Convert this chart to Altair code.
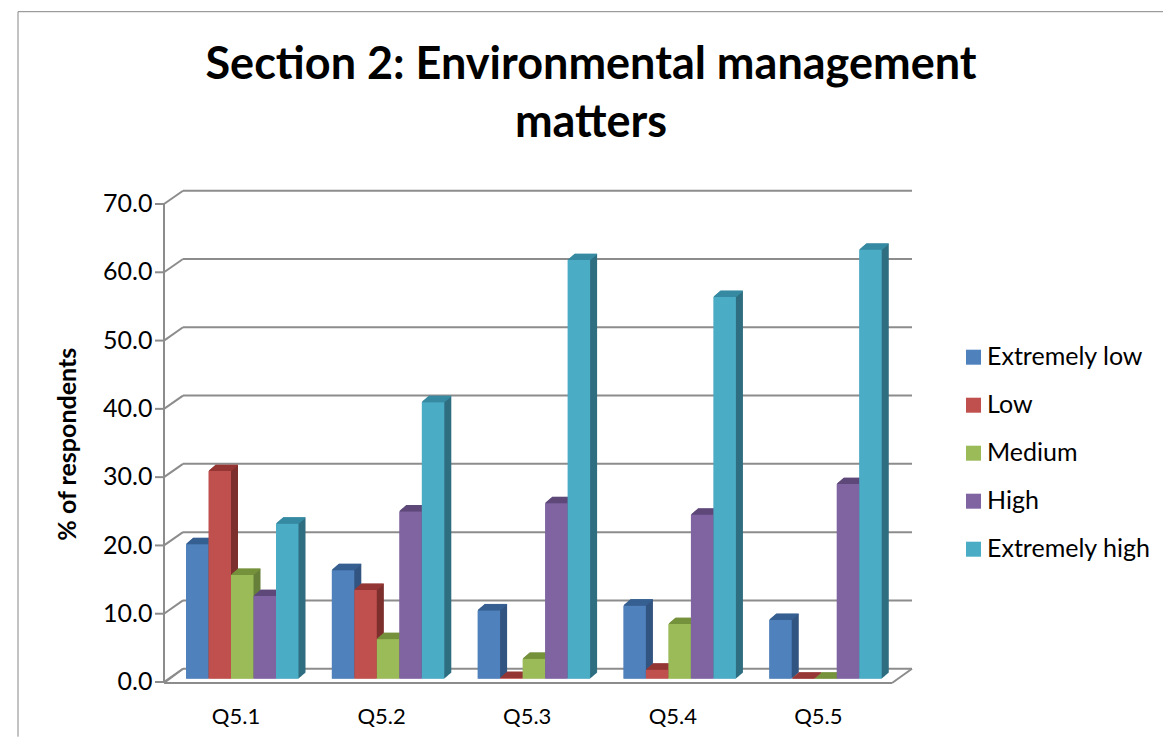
import altair as alt
import pandas as pd

categories = ["Q5.1", "Q5.2", "Q5.3", "Q5.4", "Q5.5"]
series = ["Extremely low", "Low", "Medium", "High", "Extremely high"]
extremely_low = [19.7, 15.9, 10.0, 10.7, 8.6]
low = [30.4, 13.0, 0.1, 1.3, 0.0]
medium = [15.2, 5.8, 2.9, 8.0, 0.0]
high = [12.1, 24.5, 25.7, 24.0, 28.5]
extremely_high = [22.7, 40.5, 61.3, 55.9, 62.8]
front_colors = ["#4F81BD", "#C0504D", "#9BBB59", "#8064A2", "#4BACC6"]
top_colors = ["#376092", "#953735", "#76923C", "#5F497A", "#378BA3"]
side_colors = ["#325480", "#7D2F2D", "#66803A", "#53406C", "#2F6E80"]
ticks = [0, 10, 20, 30, 40, 50, 60, 70]
title_lines = ["Section 2: Environmental management", "matters"]

GRAY = "#8C8C8C"
FONT = "Lato"
W, H = 730, 478
STEP, BAR, LEAD = 146.0, 22.5, 23.0
DX, DY = 7.0, 6.0

rows = []
for g, c in enumerate(categories):
    for s, vals in enumerate([extremely_low, low, medium, high, extremely_high]):
        x0 = g * 145.8 / STEP + s * BAR / STEP
        rows.append(dict(cat=c, series=series[s], v=vals[g], base=0, x0=x0, x1=x0 + BAR / STEP,
                         front=front_colors[s], top=top_colors[s], side=side_colors[s]))
df = pd.DataFrame(rows)
ticks_df = pd.DataFrame({"v": ticks, "base": [0] * len(ticks)})
labels_df = pd.DataFrame({"cat": categories, "c": [i * 145.6 / STEP + 0.3425 for i in range(5)], "v": [0] * 5})

xs = alt.Scale(domain=[-LEAD / STEP, (W - LEAD) / STEP], nice=False, zero=False)
ys = alt.Scale(domain=[0, 70], nice=False)
X = alt.X("x0:Q", scale=xs, axis=None)
X2 = alt.X2("x1:Q")
Y = alt.Y("v:Q", scale=ys, title="% of respondents",
          axis=alt.Axis(values=ticks, format=".1f", ticks=False, domain=False, grid=False,
                        labelFont=FONT, labelFontSize=25, labelColor="#000000", labelPadding=11,
                        labelOffset=3, titleFont=FONT, titleFontSize=25, titleFontWeight="bold",
                        titleColor="#000000", titleX=-96, titleY=243, titleBaseline="middle",
                        titleAlign="center"))


def rule(**mk):
    return alt.Chart(ticks_df).mark_rule(color=GRAY, strokeWidth=2, **mk)


layers = []
# back wall grid lines
layers.append(rule(yOffset=-10, y2Offset=-10).encode(
    x=alt.value(20), x2=alt.value(749), y=Y, y2=alt.Y2("v:Q")))
# diagonals from the front axis to the back wall
layers.append(rule(yOffset=3.3, y2Offset=-10).encode(
    x=alt.value(1), x2=alt.value(20), y=Y, y2=alt.Y2("v:Q")))
# front ticks
layers.append(rule(yOffset=3.3, y2Offset=3.3).encode(
    x=alt.value(-8), x2=alt.value(1), y=Y, y2=alt.Y2("v:Q")))
# front vertical axis
layers.append(alt.Chart(ticks_df).mark_rule(
    color=GRAY, strokeWidth=2, yOffset=3.3, y2Offset=4.3).encode(
    x=alt.value(1), y=Y, y2=alt.Y2("base:Q")))
# floor edges
zero_df = pd.DataFrame({"v": [0]})
for x1, x2, o1, o2 in [(1, 729, 4.3, 4.3), (729, 749, 4.3, -10), (1, 20, 4.3, -10)]:
    layers.append(alt.Chart(zero_df).mark_rule(color=GRAY, strokeWidth=2, yOffset=o1, y2Offset=o2).encode(
        x=alt.value(x1), x2=alt.value(x2), y=Y, y2=alt.Y2("v:Q")))

fill_side = alt.Fill("side:N", scale=None)
fill_top = alt.Fill("top:N", scale=None)
n = 14
# side faces: the bar swept along the depth direction
for i in range(1, n + 1):
    dx, dy = DX * i / n, DY * i / n
    layers.append(alt.Chart(df).mark_rect(xOffset=dx, x2Offset=dx, yOffset=-dy, y2Offset=-dy).encode(
        x=X, x2=X2, y=Y, y2=alt.Y2("base:Q"), fill=fill_side))
# top faces
for i in range(1, n + 1):
    dx, dy = DX * i / n, DY * i / n
    layers.append(alt.Chart(df).mark_rect(xOffset=dx, x2Offset=dx, yOffset=-dy - 0.5, y2Offset=-dy + 0.5).encode(
        x=X, x2=X2, y=Y, y2=alt.Y2("v:Q"), fill=fill_top))
# front faces, with the legend
layers.append(alt.Chart(df).mark_rect().encode(
    x=X, x2=X2, y=Y, y2=alt.Y2("base:Q"),
    color=alt.Color("series:N", scale=alt.Scale(domain=series, range=front_colors),
                    legend=alt.Legend(title=None, orient="none", legendX=798, legendY=144,
                                      symbolType="square", symbolSize=225, symbolStrokeWidth=0,
                                      symbolOpacity=1, labelFont=FONT, labelFontSize=25,
                                      labelColor="#000000", labelOffset=1, rowPadding=22,
                                      labelLimit=220))))
# category labels
layers.append(alt.Chart(labels_df).mark_text(font=FONT, fontSize=22, color="#000000", yOffset=38).encode(
    x=alt.X("c:Q", scale=xs, axis=None), y=Y, text="cat:N"))
# chart title
for line, py in zip(title_lines, [-136, -78]):
    layers.append(alt.Chart(zero_df.assign(t=line)).mark_text(
        font=FONT, fontSize=45, fontWeight="bold", color="#000000", align="center", baseline="middle").encode(
        x=alt.value(428), y=alt.value(py), text="t:N"))
# chart frame
layers.append(alt.Chart(zero_df).mark_rule(color="#868686", strokeWidth=1).encode(
    x=alt.value(-145), x2=alt.value(1000), y=alt.value(-189)))
layers.append(alt.Chart(zero_df).mark_rule(color="#868686", strokeWidth=1).encode(
    x=alt.value(-145), y=alt.value(-189), y2=alt.value(536)))

chart = alt.layer(*layers).properties(
    width=W, height=H,
    background="#FFFFFF",
    autosize=alt.AutoSizeParams(type="none"),
    padding={"left": 155, "top": 192.7, "right": 270, "bottom": 58.3},
).configure_view(stroke=None)

chart.save("out.html", embed_options={"renderer": "svg", "actions": False})
